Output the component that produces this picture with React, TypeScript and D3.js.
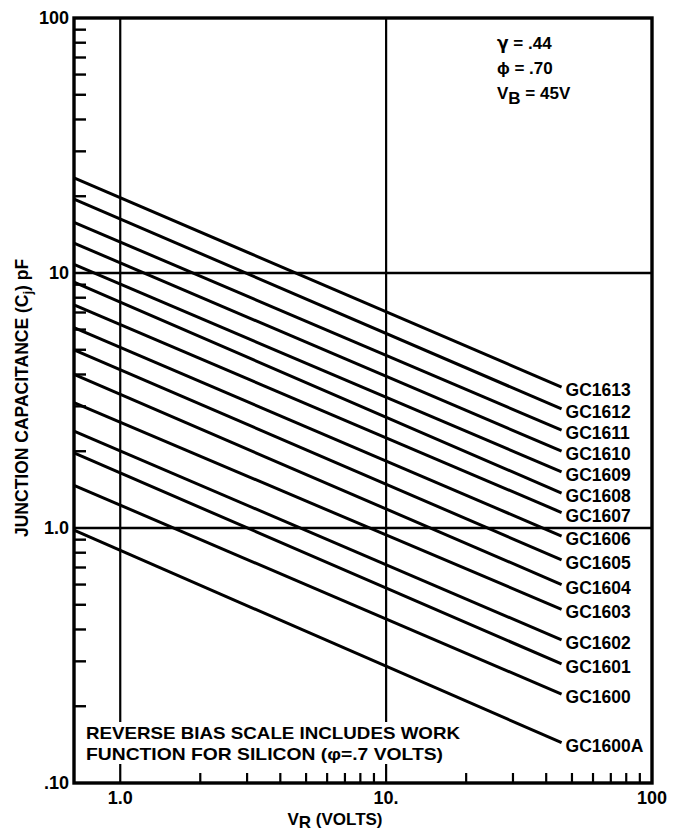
import { useMemo } from "react";
import * as d3 from "d3";

// diode part numbers, top curve first
const parts = [
  "GC1613", "GC1612", "GC1611", "GC1610", "GC1609", "GC1608", "GC1607", "GC1606",
  "GC1605", "GC1604", "GC1603", "GC1602", "GC1601", "GC1600", "GC1600A",
];
// junction capacitance (pF) where each curve leaves the left axis (V_R + phi = 0.67)
const capStart = [23.6, 19.5, 15.8, 13.1, 10.8, 9.2, 7.5, 6.1, 5.0, 4.0, 3.1, 2.4, 1.97, 1.47, 0.98];
// junction capacitance (pF) at breakdown, V_R = 45 V (axis value 45.7)
const capEnd = [3.57, 2.93, 2.42, 2.0, 1.66, 1.37, 1.15, 0.93, 0.75, 0.6, 0.48, 0.364, 0.293, 0.223, 0.144];
const vStart = 0.67;
const vEnd = 45.7;

const xTicks = [
  { v: 1, label: "1.0" },
  { v: 10, label: "10." },
  { v: 100, label: "100" },
];
const yTicks = [
  { v: 100, label: "100" },
  { v: 10, label: "10" },
  { v: 1, label: "1.0" },
  { v: 0.1, label: ".10" },
];
const gridX = [1, 10];
const gridY = [1, 10];
const minorMult = [2, 3, 4, 5, 6, 7, 8, 9];

const W = 680;
const H = 835;
const margin = { top: 18, right: 28, bottom: 52, left: 74 };
const font = "'Liberation Sans', Arial, Helvetica, sans-serif";

export default function App() {
  const x = useMemo(
    () => d3.scaleLog().domain([vStart, 100]).range([margin.left, W - margin.right]),
    []
  );
  const y = useMemo(
    () => d3.scaleLog().domain([0.1, 100]).range([H - margin.bottom, margin.top]),
    []
  );
  const x0 = x.range()[0];
  const x1 = x.range()[1];
  const y0 = y.range()[0];
  const y1 = y.range()[1];

  const line = d3
    .line<[number, number]>()
    .x((d) => x(d[0]))
    .y((d) => y(d[1]));

  const yMinor: number[] = [];
  [0.1, 1, 10].forEach((dec) => minorMult.forEach((m) => yMinor.push(dec * m)));
  const xMinor: number[] = [];
  [1, 10].forEach((dec) => minorMult.forEach((m) => xMinor.push(dec * m)));

  return (
    <svg
      width={W}
      height={H}
      style={{ position: "absolute", left: 0, top: 0, background: "#fff" }}
      fontFamily={font}
      fontWeight="bold"
    >
      {/* grid */}
      {gridX.map((v) => (
        <line key={"gx" + v} x1={x(v)} x2={x(v)} y1={y1} y2={y0} stroke="#000" strokeWidth={2.2} />
      ))}
      {gridY.map((v) => (
        <line key={"gy" + v} x1={x0} x2={x1} y1={y(v)} y2={y(v)} stroke="#000" strokeWidth={2.6} />
      ))}

      {/* minor ticks */}
      {yMinor.map((v) => (
        <line key={"ym" + v} x1={x0} x2={x0 + 12} y1={y(v)} y2={y(v)} stroke="#000" strokeWidth={2.4} />
      ))}
      {xMinor.map((v) => (
        <line key={"xm" + v} x1={x(v)} x2={x(v)} y1={y0} y2={y0 - 10} stroke="#000" strokeWidth={2.2} />
      ))}

      {/* curves */}
      {parts.map((p, i) => (
        <path
          key={p}
          d={line([
            [vStart, capStart[i]],
            [vEnd, capEnd[i]],
          ]) || ""}
          fill="none"
          stroke="#000"
          strokeWidth={3}
        />
      ))}
      {parts.map((p, i) => (
        <text key={"l" + p} x={x(vEnd) + 4} y={y(capEnd[i]) + 9} fontSize={17.5}>
          {p}
        </text>
      ))}

      {/* note */}
      <rect x={84} y={722} width={380} height={42} fill="#fff" />
      <text x={86} y={739} fontSize={17} textLength={374} lengthAdjust="spacingAndGlyphs">
        REVERSE BIAS SCALE INCLUDES WORK
      </text>
      <text x={86} y={760} fontSize={17} textLength={357} lengthAdjust="spacingAndGlyphs">
        FUNCTION FOR SILICON (φ=.7 VOLTS)
      </text>

      {/* frame */}
      <rect x={x0} y={y1} width={x1 - x0} height={y0 - y1} fill="none" stroke="#000" strokeWidth={3.4} />

      {/* tick labels */}
      {yTicks.map((t) => (
        <text key={"yt" + t.v} x={x0 - 5} y={y(t.v) + 6} fontSize={18} textAnchor="end">
          {t.label}
        </text>
      ))}
      {xTicks.map((t) => (
        <text key={"xt" + t.v} x={x(t.v)} y={y0 + 21} fontSize={18} textAnchor="middle">
          {t.label}
        </text>
      ))}

      {/* axis titles */}
      <text x={335} y={H - 10} fontSize={17} textAnchor="middle">
        V<tspan dy={3}>R</tspan>
        <tspan dy={-3}> (VOLTS)</tspan>
      </text>
      <text transform="translate(28, 537) rotate(-90)" fontSize={17.5}>
        JUNCTION CAPACITANCE (C<tspan fontSize={13} dy={4}>j</tspan>
        <tspan dy={-4}>) pF</tspan>
      </text>

      {/* parameters */}
      <text x={497} y={49} fontSize={17}>
        <tspan fontFamily="'DejaVu Sans', sans-serif">γ</tspan> = .44
      </text>
      <text x={497} y={74} fontSize={17}>ϕ = .70</text>
      <text x={497} y={99} fontSize={17}>
        V<tspan dy={5}>B</tspan>
        <tspan dy={-5}> = 45V</tspan>
      </text>
    </svg>
  );
}
